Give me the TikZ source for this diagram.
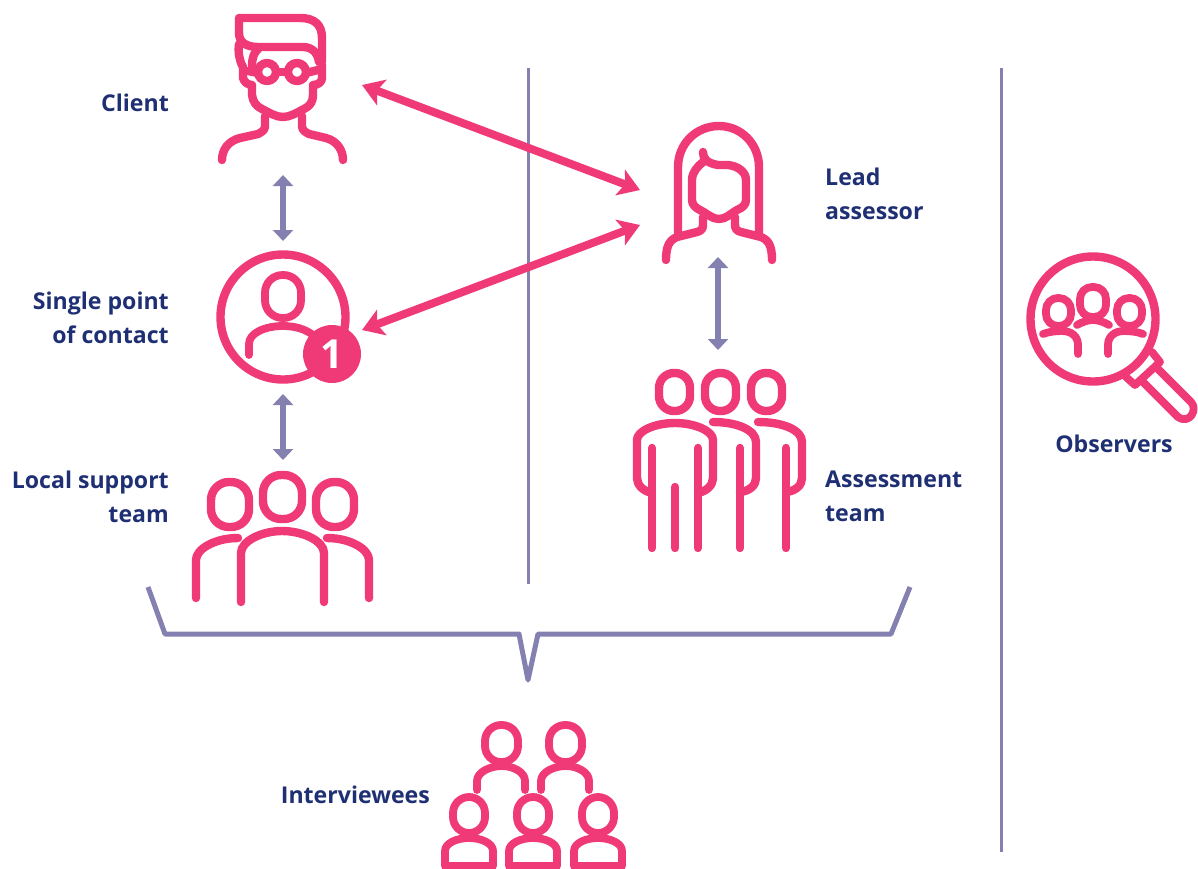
\documentclass[tikz,border=0pt]{standalone}
\usepackage{fontspec}
\setmainfont{Open Sans}
\usetikzlibrary{arrows.meta}
\definecolor{pinkc}{RGB}{240,58,120}
\definecolor{purp}{RGB}{132,128,176}
\definecolor{navy}{RGB}{31,47,115}
\tikzset{
 icon/.style={draw=pinkc,line width=8.4pt,line cap=round,line join=round,fill=none},
 thin icon/.style={icon,line width=7.8pt},
 pinkarrow/.style={draw=pinkc,line width=8pt,{Stealth[length=21pt,width=27pt,inset=5pt]}-{Stealth[length=21pt,width=27pt,inset=5pt]}},
 purparrow/.style={draw=purp,line width=6pt,{Stealth[length=11pt,width=20pt,inset=0pt]}-{Stealth[length=11pt,width=20pt,inset=0pt]}},
 rule/.style={draw=purp,line width=3pt},
 brace/.style={draw=purp,line width=5pt,line join=round},
 lab/.style={text=navy,font=\fontsize{23.1}{33.5}\selectfont\bfseries,inner sep=0pt},
 labr/.style={lab,align=right,anchor=north east},
 labl/.style={lab,align=left,anchor=north west},
}
\begin{document}
\begin{tikzpicture}[x=1pt,y=-1pt]
\useasboundingbox (0,0) rectangle (1198,868);
% coordinates
\coordinate (clA) at (362,85); \coordinate (leadA) at (640,190);
\coordinate (spA) at (362,330); \coordinate (leadB) at (640,225);
\coordinate (clB) at (283,175); \coordinate (spB) at (283,241);
\coordinate (spC) at (283,394); \coordinate (locA) at (283,460);
\coordinate (leadC) at (718,257); \coordinate (asA) at (718,350);
\coordinate (r1a) at (528,68); \coordinate (r1b) at (528,584);
\coordinate (r2a) at (1001,68); \coordinate (r2b) at (1001,852);
% rules and brace
\draw[rule] (r1a) -- (r1b);
\draw[rule] (r2a) -- (r2b);
\coordinate (b1) at (148,587); \coordinate (b2) at (165,634); \coordinate (b3) at (519,634);
\coordinate (b4) at (528,680); \coordinate (b5) at (538,634); \coordinate (b6) at (891,634); \coordinate (b7) at (910,587);
\draw[brace] (b1) -- (b2) -- (b3) -- (b4) -- (b5) -- (b6) -- (b7);
% connectors
\draw[pinkarrow] (clA) -- (leadA);
\draw[pinkarrow] (spA) -- (leadB);
\draw[purparrow] (clB) -- (spB);
\draw[purparrow] (spC) -- (locA);
\draw[purparrow] (leadC) -- (asA);
% Client
\begin{scope}
\draw[icon] (239,33) -- (239,18) -- (300,18) .. controls (315,18) and (322,25) .. (322,38) -- (322,62);
\draw[icon] (239,33) .. controls (239,42) and (246,47) .. (258,47) -- (303,47) .. controls (312,47) and (318,53) .. (319,62);
\draw[icon] (259,48) .. controls (254,52) and (252,58) .. (252,66);
\draw[icon] (239,44) .. controls (238,52) and (239,60) .. (243,67) -- (243,78) .. controls (244,82) and (248,85) .. (252,85)
 -- (252,95) .. controls (253,102) and (256,106) .. (262,109) .. controls (270,113) and (276,117) .. (283,117)
 .. controls (290,117) and (296,113) .. (304,109) .. controls (310,106) and (313,102) .. (313,95) -- (313,85)
 .. controls (318,85) and (322,82) .. (322,78) -- (322,65);
\draw[icon] (267,72) circle (9);
\draw[icon] (297,72) circle (9);
\draw[icon] (276,72) -- (288,72);
\draw[icon] (248,71) -- (258,73);
\draw[icon] (306,73) -- (318,70);
\draw[icon] (265,116) -- (265,126) .. controls (265,130) and (262,132) .. (258,134) -- (240,138) .. controls (228,141) and (222,150) .. (222,160);
\draw[icon] (302,116) -- (302,126) .. controls (302,130) and (305,132) .. (309,134) -- (326,138) .. controls (337,141) and (343,150) .. (343,160);
\end{scope}
% Single point of contact
\draw[icon] (283,317) circle (62.5);
\draw[thin icon,rounded corners=17.5pt] (265,275) rectangle (301,318);
\draw[thin icon] (249,355) -- (249,344) .. controls (249,333) and (265,326) .. (283,326) .. controls (295,326) and (305,329) .. (313,335);
\node[circle,fill=pinkc,minimum size=58pt,inner sep=0pt,text=white,font=\fontsize{40}{40}\selectfont\bfseries] (badge) at (332,354) {1};
% Local support team
\draw[icon,rounded corners=18pt] (263,475) rectangle (302,519);
\draw[icon,rounded corners=18pt] (211,482) rectangle (249,527);
\draw[icon,rounded corners=18pt] (316,482) rectangle (354,527);
\draw[icon] (241,602) -- (241,553) .. controls (241,541) and (262,531) .. (282,531) .. controls (303,531) and (324,541) .. (324,553) -- (324,602);
\draw[icon] (196,598) -- (196,560) .. controls (196,549) and (215,538) .. (238,538);
\draw[icon] (369,598) -- (369,560) .. controls (369,549) and (350,538) .. (327,538);
% Lead assessor
\draw[icon] (678,233) -- (678,167) .. controls (678,144) and (696,126) .. (719,126) .. controls (741,126) and (759,144) .. (759,167) -- (759,233);
\draw[icon] (703,152) .. controls (703,158) and (706,163) .. (718,165) -- (728,165) .. controls (738,166) and (746,172) .. (746,180) -- (746,200)
 .. controls (746,205) and (742,208) .. (737,210) .. controls (730,214) and (726,219) .. (719,219) .. controls (712,219) and (708,214) .. (700,210)
 .. controls (696,208) and (692,205) .. (692,200) -- (692,180) .. controls (692,172) and (698,166) .. (703,162);
\draw[icon] (703,217) -- (703,225) .. controls (703,229) and (701,231) .. (697,232) -- (677,237) .. controls (670,240) and (666,245) .. (666,260);
\draw[icon] (735,217) -- (735,225) .. controls (735,229) and (737,231) .. (741,232) -- (761,237) .. controls (768,240) and (772,245) .. (772,260);
% Assessment team
\foreach \xa/\xb in {659/690,705/736,751/782}{
 \draw[icon,rounded corners=15pt] (\xa,373) rectangle (\xb,411);
}
\draw[icon] (652,493) .. controls (643,491) and (637,485) .. (637,478) -- (637,440) .. controls (637,431) and (655,423) .. (675,423)
 .. controls (695,423) and (713,431) .. (713,440) -- (713,478) .. controls (713,485) and (707,491) .. (698,493);
\draw[icon] (713,422) .. controls (737,422) and (756,430) .. (756,442) -- (756,478) .. controls (756,485) and (750,491) .. (740,492);
\draw[icon] (758,422) .. controls (783,422) and (802,430) .. (802,442) -- (802,478) .. controls (802,485) and (796,491) .. (786,492);
\foreach \x/\y in {652/448,675/487,698/448,740/448,786/448}{
 \draw[icon] (\x,\y) -- (\x,548);
}
% Observers
\draw[icon] (1093,319) circle (62.5);
\draw[thin icon,rounded corners=12pt] (1080,287) rectangle (1106,317);
\draw[thin icon,rounded corners=12pt] (1046,298) rectangle (1071,326);
\draw[thin icon,rounded corners=12pt] (1117,298) rectangle (1142,326);
\draw[thin icon] (1043,334) .. controls (1048,332) and (1055,331) .. (1062,331) .. controls (1071,331) and (1078,336) .. (1078,345) -- (1078,354);
\draw[thin icon] (1143,334) .. controls (1138,332) and (1131,331) .. (1124,331) .. controls (1115,331) and (1108,336) .. (1108,345) -- (1108,354);
\draw[thin icon] (1077,325) .. controls (1082,322) and (1088,320) .. (1093,320) .. controls (1098,320) and (1104,322) .. (1109,325);
\draw[thin icon] (1152,352) -- (1160,362) -- (1135,385) -- (1126,377);
\draw[thin icon] (1157,368) -- (1191,402) .. controls (1198,409) and (1190,425) .. (1178,417) -- (1143,382);
% Interviewees
\foreach \d in {0,64}{
 \begin{scope}[xshift=\d pt]
 \draw[thin icon,rounded corners=16pt] (485,725) rectangle (518,762);
 \draw[thin icon] (477,790) -- (477,781) .. controls (477,772) and (490,766) .. (502,766) .. controls (513,766) and (525,772) .. (525,781) -- (525,790);
 \end{scope}
}
\foreach \d in {0,64,129}{
 \begin{scope}[xshift=\d pt]
 \draw[thin icon,rounded corners=16pt] (453,797) rectangle (485,833);
 \draw[thin icon] (445,866) -- (445,851) .. controls (445,843) and (457,838) .. (469,838) .. controls (481,838) and (493,843) .. (493,851) -- (493,866) -- cycle;
 \end{scope}
}
% Labels
\node[labr] (lClient) at (169,94) {Client};
\node[labr] (lSpoc) at (169,292) {Single point\\of contact};
\node[labr] (lLocal) at (169,471) {Local support\\team};
\node[labl] (lLead) at (825,168) {Lead\\assessor};
\node[labl] (lAssess) at (825,471) {Assessment\\team};
\node[lab,anchor=north] (lObs) at (1114,435) {Observers};
\node[lab,anchor=north east] (lInt) at (430,786) {Interviewees};
\end{tikzpicture}
\end{document}
